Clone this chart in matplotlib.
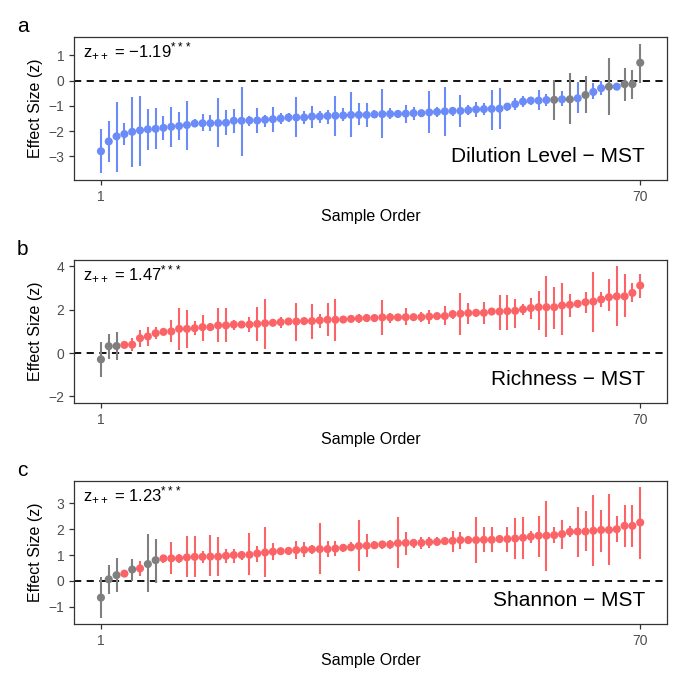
import numpy as np
import matplotlib
matplotlib.use("Agg")
import matplotlib.pyplot as plt

plt.rcParams['font.family'] = ['Liberation Sans', 'DejaVu Sans']
plt.rcParams['mathtext.fontset'] = 'custom'
plt.rcParams['mathtext.rm'] = 'Liberation Sans'
plt.rcParams['mathtext.it'] = 'Liberation Sans'

# panel a: Dilution Level - MST
dil_est = [-2.80, -2.41, -2.21, -2.12, -2.03, -1.97, -1.93, -1.91, -1.87, -1.83,
           -1.80, -1.76, -1.70, -1.69, -1.69, -1.68, -1.67, -1.59, -1.59, -1.58,
           -1.58, -1.55, -1.53, -1.50, -1.46, -1.46, -1.46, -1.42, -1.42, -1.40,
           -1.39, -1.38, -1.36, -1.36, -1.36, -1.34, -1.33, -1.32, -1.32, -1.31,
           -1.29, -1.29, -1.26, -1.24, -1.22, -1.20, -1.20, -1.17, -1.14, -1.13,
           -1.12, -1.11, -1.03, -0.93, -0.83, -0.79, -0.79, -0.77, -0.76, -0.74,
           -0.74, -0.70, -0.57, -0.45, -0.30, -0.24, -0.24, -0.14, -0.14, 0.71]
dil_hi = [-1.92, -1.62, -0.83, -1.68, -0.63, -0.59, -1.13, -1.09, -1.39, -1.03,
          -1.25, -0.79, -1.53, -1.33, -1.37, -0.70, -1.16, -1.12, -0.24, -1.39,
          -1.09, -1.36, -1.03, -1.29, -1.29, -0.66, -1.22, -1.00, -1.22, -1.16,
          -0.61, -1.09, -0.47, -0.89, -0.89, -1.16, -0.34, -1.09, -1.16, -0.96,
          -1.03, -1.16, -0.43, -1.05, -0.26, -1.03, -0.57, -0.96, -0.83, -0.89,
          -0.37, -0.30, -0.89, -0.70, -0.61, -0.63, -0.39, -0.53, 0.02, -0.43,
          0.29, -0.04, 0.18, -0.11, -0.02, 0.88, -0.17, 0.49, 0.42, 1.47]
dil_lo = [-3.68, -3.22, -3.62, -2.54, -3.42, -3.37, -2.74, -2.70, -2.34, -2.63,
          -2.34, -2.74, -1.84, -1.99, -1.99, -2.64, -2.16, -2.09, -3.00, -1.79,
          -2.08, -1.82, -2.03, -1.72, -1.64, -2.24, -1.72, -1.89, -1.66, -1.71,
          -2.18, -1.62, -2.24, -1.75, -1.82, -1.49, -2.28, -1.53, -1.49, -1.66,
          -1.55, -1.45, -2.08, -1.45, -2.21, -1.39, -1.84, -1.36, -1.45, -1.36,
          -1.95, -1.92, -1.22, -1.16, -1.05, -0.96, -1.16, -1.00, -1.55, -1.00,
          -1.71, -1.29, -1.29, -0.74, -0.57, -1.36, -0.34, -0.80, -0.74, -0.11]

# panel b: Richness - MST
ric_est = [-0.29, 0.32, 0.33, 0.38, 0.39, 0.69, 0.77, 0.92, 0.98, 1.00,
           1.12, 1.12, 1.15, 1.20, 1.20, 1.28, 1.28, 1.32, 1.32, 1.32,
           1.35, 1.38, 1.40, 1.43, 1.46, 1.46, 1.48, 1.48, 1.51, 1.54,
           1.54, 1.55, 1.58, 1.60, 1.62, 1.62, 1.65, 1.65, 1.65, 1.66,
           1.66, 1.66, 1.69, 1.71, 1.71, 1.80, 1.82, 1.85, 1.86, 1.86,
           1.92, 1.92, 1.94, 1.95, 2.02, 2.08, 2.12, 2.12, 2.12, 2.20,
           2.23, 2.28, 2.35, 2.38, 2.48, 2.58, 2.62, 2.62, 2.78, 3.12]
ric_hi = [0.51, 0.89, 0.97, 0.51, 0.71, 1.09, 1.20, 1.20, 1.12, 1.51,
          2.09, 2.00, 1.48, 1.78, 1.38, 2.09, 2.09, 1.51, 1.48, 1.66,
          2.15, 2.51, 1.55, 1.66, 1.58, 2.31, 1.63, 2.28, 1.82, 2.31,
          2.51, 1.66, 1.74, 1.82, 1.78, 1.78, 2.43, 1.86, 1.82, 2.08,
          1.82, 1.89, 2.00, 1.85, 2.17, 1.97, 2.78, 2.31, 2.05, 2.35,
          2.09, 2.69, 2.69, 2.51, 2.28, 2.54, 2.89, 3.54, 3.05, 3.23,
          2.74, 2.43, 2.82, 3.74, 2.82, 3.43, 4.00, 3.63, 3.23, 3.66]
ric_lo = [-1.08, -0.26, -0.31, 0.28, 0.09, 0.28, 0.31, 0.66, 0.82, 0.51,
          0.15, 0.25, 0.82, 0.58, 1.00, 0.51, 0.51, 1.09, 1.15, 0.97,
          0.58, 0.20, 1.23, 1.15, 1.32, 0.58, 1.32, 0.66, 1.17, 0.77,
          0.55, 1.43, 1.43, 1.38, 1.43, 1.43, 0.85, 1.38, 1.51, 1.28,
          1.48, 1.43, 1.35, 1.54, 1.28, 1.58, 0.85, 1.35, 1.66, 1.35,
          1.74, 1.08, 1.09, 1.17, 1.74, 1.58, 1.08, 0.74, 1.12, 0.82,
          1.66, 2.09, 1.85, 0.97, 2.12, 1.94, 1.23, 1.66, 2.35, 2.55]

# panel c: Shannon - MST
sha_est = [-0.65, 0.06, 0.22, 0.28, 0.44, 0.48, 0.65, 0.80, 0.87, 0.87,
           0.87, 0.91, 0.93, 0.93, 0.94, 0.94, 0.97, 1.00, 1.00, 1.01,
           1.06, 1.10, 1.13, 1.15, 1.16, 1.19, 1.20, 1.22, 1.23, 1.23,
           1.25, 1.28, 1.30, 1.35, 1.36, 1.38, 1.41, 1.41, 1.46, 1.47,
           1.47, 1.47, 1.50, 1.51, 1.54, 1.55, 1.58, 1.58, 1.58, 1.59,
           1.59, 1.62, 1.62, 1.64, 1.67, 1.71, 1.75, 1.75, 1.77, 1.81,
           1.90, 1.91, 1.91, 1.94, 1.97, 1.97, 2.00, 2.13, 2.13, 2.26]
sha_hi = [0.13, 0.61, 0.87, 0.36, 0.84, 0.78, 1.81, 1.64, 1.00, 1.49,
          1.03, 1.72, 1.75, 1.16, 1.77, 1.68, 1.23, 1.25, 1.16, 1.85,
          1.36, 2.07, 1.46, 1.29, 1.33, 1.55, 1.49, 1.38, 2.24, 1.55,
          1.55, 1.42, 1.49, 2.37, 1.81, 1.55, 1.55, 1.59, 2.46, 1.91,
          1.64, 1.68, 1.68, 1.68, 1.68, 1.94, 1.91, 1.75, 2.46, 2.07,
          2.07, 1.77, 2.10, 2.42, 2.46, 1.94, 2.52, 3.10, 2.07, 2.37,
          2.13, 2.85, 2.69, 3.32, 2.76, 3.36, 2.50, 2.94, 2.94, 3.62]
sha_lo = [-1.42, -0.52, -0.43, 0.20, -0.02, 0.17, -0.45, -0.09, 0.71, 0.26,
          0.71, 0.13, 0.13, 0.71, 0.17, 0.17, 0.71, 0.71, 0.82, 0.22,
          0.74, 0.13, 0.82, 1.00, 1.00, 0.84, 0.91, 1.03, 0.26, 0.94,
          0.97, 1.10, 1.16, 0.39, 0.91, 1.23, 1.25, 1.23, 0.48, 1.00,
          1.29, 1.25, 1.29, 1.36, 1.38, 1.13, 1.23, 1.42, 0.69, 1.10,
          1.10, 1.46, 1.13, 0.84, 0.84, 1.46, 0.94, 0.39, 1.46, 1.23,
          1.68, 0.91, 1.16, 0.56, 1.13, 0.61, 1.51, 1.33, 1.33, 0.84]

panel_letters = ['a', 'b', 'c']
panel_names = ['Dilution Level \u2212 MST', 'Richness \u2212 MST', 'Shannon \u2212 MST']
pooled = ['\u22121.19', '1.47', '1.23']
yticks_list = [[-3, -2, -1, 0, 1], [-2, 0, 2, 4], [-1, 0, 1, 2, 3]]
ylims_list = [(-3.94, 1.73), (-2.3, 4.3), (-1.67, 3.87)]

BLUE = '#6b8cf8'
RED = '#fb6366'
GRAY = '#7f7f7f'

fig = plt.figure(figsize=(6.85, 6.85), dpi=100)
bottoms = [0.7372, 0.4117, 0.0891]
data = [(dil_est, dil_lo, dil_hi), (ric_est, ric_lo, ric_hi), (sha_est, sha_lo, sha_hi)]

for i, (est, lo, hi) in enumerate(data):
    ax = fig.add_axes([0.108, bottoms[i], 0.866, 0.2088])
    est = np.array(est); lo = np.array(lo); hi = np.array(hi)
    x = np.arange(1, len(est) + 1)
    colors = [RED if l > 0 else (BLUE if h < 0 else GRAY) for l, h in zip(lo, hi)]
    ax.axhline(0, color='black', lw=1.3, ls=(0, (4, 3)), zorder=1)
    ax.vlines(x, lo, hi, colors=colors, lw=1.5, zorder=2)
    ax.scatter(x, est, c=colors, s=34, zorder=3, linewidths=0)
    ax.set_xlim(-2.45, 73.45)
    ax.set_ylim(*ylims_list[i])
    ax.set_xticks([1, 70])
    ax.set_yticks(yticks_list[i])
    ax.set_yticklabels([str(t).replace('-', '\u2212') for t in yticks_list[i]])
    for s in ax.spines.values():
        s.set_color('#333333')
        s.set_linewidth(0.9)
    ax.tick_params(colors='#333333', labelcolor='#4d4d4d', labelsize=10,
                   length=3.5, width=0.9)
    ax.set_xlabel('Sample Order', fontsize=11.5, labelpad=4)
    ax.set_ylabel('Effect Size (z)', fontsize=11.5, labelpad=4)
    ax.text(0.015, 0.865, r'z$_{++}$ = ' + pooled[i] + r'$^{***}$',
            transform=ax.transAxes, fontsize=12, va='baseline', ha='left')
    ax.text(0.963, 0.126, panel_names[i], transform=ax.transAxes,
            fontsize=15, va='baseline', ha='right')
    fig.text(0.025, bottoms[i] + 0.2088 + 0.007, panel_letters[i],
             fontsize=15, va='baseline', ha='left')

fig.savefig('out.png', dpi=100)
